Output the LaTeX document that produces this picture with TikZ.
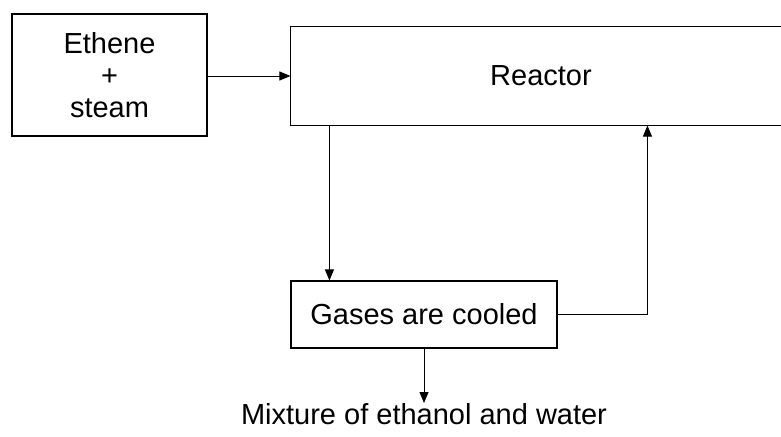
\documentclass[tikz,border=0pt]{standalone}
\usepackage{fontspec}
\setmainfont{Liberation Sans}
\usepackage{tikz}
\usetikzlibrary{arrows.meta,positioning}

\begin{document}
\begin{tikzpicture}[x=1pt, y=-1pt,
    block/.style={rectangle, draw=black, line width=1.1pt, align=center, inner sep=0pt, font=\fontsize{29pt}{32pt}\selectfont},
    label/.style={inner sep=0pt, font=\fontsize{29pt}{32pt}\selectfont},
    arrow/.style={-{Triangle[length=11pt,width=9pt]}, line width=0.8pt}]

    \useasboundingbox (0,0) rectangle (781,436);

    \node[block, minimum width=195pt, minimum height=122pt] (feed) at (109.5,75) {Ethene\\+\\steam};
    % reactor runs out of the frame on the right
    \node[block, draw=none, minimum width=500pt, minimum height=98pt] (reactor) at (541,76) {Reactor};
    \draw[line width=1.1pt] ([xshift=30pt]reactor.north east) -| (reactor.south west) -- ([xshift=30pt]reactor.south east);
    \node[block, minimum width=266pt, minimum height=67pt] (cool) at (424,314.5) {Gases are cooled};
    \node[label, anchor=north] (product) at (424,403) {Mixture of ethanol and water};

    \draw[arrow] (feed.east |- 0,76) -- (reactor.west);
    \draw[arrow] ([xshift=39pt]reactor.south west) -- ([xshift=39pt]cool.north west);
    \draw[arrow] (cool.east) -| ([xshift=357pt]reactor.south west);
    \draw[arrow] (cool.south) -- (product.north);
\end{tikzpicture}
\end{document}
